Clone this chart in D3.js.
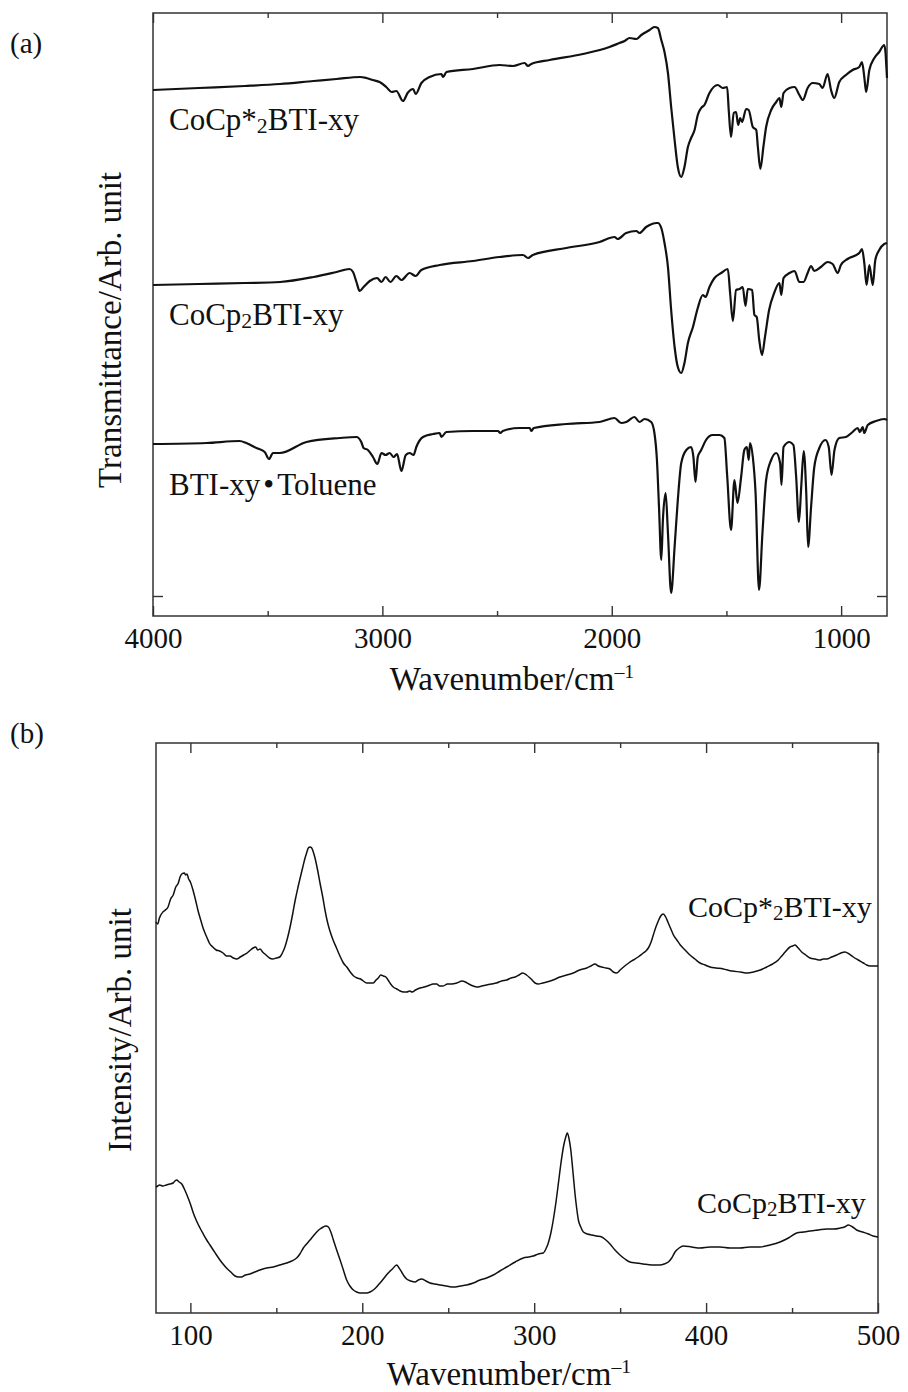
<!DOCTYPE html>
<html>
<head>
<meta charset="utf-8">
<script src="https://cdn.jsdelivr.net/npm/d3@7"></script>
<style>
  body { margin: 0; background: #fff; }
  svg { display: block; }
  text { font-family: "Liberation Serif", "Times New Roman", "DejaVu Serif", serif; fill: #111; }
</style>
</head>
<body>
<svg id="fig" width="908" height="1392" font-family="Liberation Serif, serif"></svg>
<script>
// ---------- (a) FT-IR spectra: [wavenumber / cm-1, transmittance (arb., offset)] ----------
const irCoCpStar = [
  [4000,52.6],[3800,52.8],[3600,53.0],[3446,53.2],[3300,53.5],[3200,53.7],[3097,53.9],[3070,53.8],
  [3042,53.6],[3012,53.4],[2983,52.9],[2960,52.4],[2939,52.5],[2910,51.5],[2890,52.3],[2866,52.7],
  [2855,52.2],[2830,53.3],[2794,53.9],[2743,54.2],[2735,53.9],[2721,54.4],[2605,54.7],[2489,55.1],
  [2431,55.0],[2380,55.3],[2365,55.0],[2351,55.2],[2271,55.6],[2126,56.2],[2010,56.9],[1966,57.3],
  [1944,57.5],[1922,57.8],[1893,57.7],[1871,58.1],[1835,58.6],[1814,58.9],[1799,58.8],[1784,57.6],
  [1770,56.4],[1755,54.3],[1741,50.9],[1726,47.6],[1712,44.9],[1697,43.9],[1683,44.9],[1668,46.9],
  [1654,47.8],[1639,48.6],[1625,50.1],[1610,50.8],[1596,51.1],[1574,52.3],[1538,53.1],[1516,52.8],
  [1497,52.9],[1490,50.6],[1480,47.9],[1468,50.3],[1458,50.4],[1449,49.1],[1440,49.8],[1432,49.4],
  [1414,50.7],[1403,50.6],[1385,48.9],[1370,48.6],[1363,46.9],[1352,44.7],[1339,46.9],[1327,48.9],
  [1305,50.6],[1283,51.4],[1269,51.8],[1261,50.9],[1251,52.3],[1225,52.8],[1203,52.9],[1182,52.1],
  [1167,51.6],[1146,52.8],[1124,53.3],[1095,53.2],[1081,52.8],[1059,54.2],[1044,52.6],[1030,51.8],
  [1008,53.4],[979,54.1],[950,54.6],[921,54.9],[909,55.4],[899,53.9],[891,52.4],[877,54.6],
  [855,55.8],[834,56.4],[812,57.1],[806,56.2],[803,55.0],[800,53.8]
];
const irCoCp = [
  [4000,33.1],[3800,33.2],[3600,33.3],[3446,33.4],[3300,33.9],[3200,34.4],[3143,34.7],[3128,34.4],
  [3113,33.4],[3099,32.5],[3082,32.9],[3055,33.5],[3023,33.8],[3004,33.4],[2986,33.9],[2965,33.4],
  [2939,34.0],[2917,33.6],[2881,34.3],[2855,34.0],[2830,34.6],[2750,35.1],[2605,35.5],[2489,35.9],
  [2387,36.1],[2365,35.8],[2344,36.1],[2198,36.8],[2053,37.4],[1988,37.9],[1974,37.7],[1937,38.3],
  [1893,38.5],[1879,38.3],[1850,38.9],[1835,39.1],[1806,39.3],[1799,39.3],[1784,38.8],[1770,37.3],
  [1755,34.9],[1741,30.6],[1726,26.9],[1712,24.9],[1697,24.3],[1683,25.3],[1668,27.3],[1646,28.9],
  [1625,30.8],[1603,32.1],[1591,31.9],[1574,32.9],[1552,33.8],[1523,34.3],[1494,34.7],[1484,32.3],
  [1472,29.5],[1458,32.6],[1443,32.7],[1429,32.9],[1417,31.0],[1407,32.7],[1388,32.6],[1378,30.1],
  [1368,29.9],[1357,27.6],[1345,26.1],[1332,27.9],[1314,30.6],[1292,32.3],[1269,33.3],[1261,32.1],
  [1251,33.8],[1225,34.3],[1203,34.5],[1182,33.4],[1164,33.4],[1146,34.3],[1131,35.0],[1117,34.5],
  [1088,34.9],[1059,35.4],[1037,35.2],[1015,34.3],[1001,35.1],[972,35.7],[921,36.3],[909,36.7],
  [899,35.3],[889,33.1],[877,35.1],[862,33.1],[851,35.6],[834,36.6],[812,37.2],[800,37.3]
];
const irBTIToluene = [
  [4000,17.2],[3767,17.3],[3622,17.5],[3593,17.3],[3549,16.8],[3513,16.4],[3494,15.7],[3477,16.3],
  [3447,16.3],[3331,17.4],[3186,17.8],[3113,17.9],[3092,17.4],[3082,16.8],[3063,16.6],[3041,15.9],
  [3022,15.2],[3004,16.3],[2986,16.1],[2968,16.3],[2951,15.9],[2936,16.2],[2917,14.5],[2898,16.1],
  [2881,16.3],[2864,16.1],[2852,16.9],[2823,17.9],[2779,18.2],[2750,18.3],[2743,17.9],[2721,18.4],
  [2605,18.5],[2496,18.5],[2486,18.3],[2475,18.5],[2402,18.8],[2358,18.8],[2350,18.5],[2340,18.8],
  [2198,19.2],[2053,19.4],[1988,19.8],[1959,19.3],[1937,19.4],[1901,19.9],[1879,19.4],[1857,19.7],
  [1828,19.4],[1814,18.3],[1803,15.6],[1794,10.9],[1784,5.6],[1777,9.6],[1765,12.3],[1755,8.3],
  [1741,2.3],[1726,6.9],[1712,11.6],[1697,15.3],[1675,16.6],[1654,16.9],[1644,15.9],[1635,13.4],
  [1625,15.9],[1610,16.6],[1589,17.6],[1560,18.1],[1530,18.1],[1509,17.8],[1497,14.1],[1480,8.6],
  [1465,13.6],[1452,11.3],[1436,13.9],[1422,16.6],[1411,16.9],[1403,15.6],[1397,17.3],[1385,15.9],
  [1373,12.3],[1358,2.6],[1343,8.3],[1327,13.6],[1305,15.6],[1283,16.3],[1266,15.3],[1260,13.1],
  [1251,16.9],[1225,17.4],[1208,17.1],[1196,13.9],[1184,9.4],[1174,12.9],[1163,16.5],[1152,12.3],
  [1144,6.9],[1131,10.9],[1117,14.9],[1095,16.8],[1068,17.6],[1054,16.9],[1042,14.1],[1029,16.6],
  [1008,17.8],[979,17.9],[950,18.4],[928,18.8],[918,18.4],[906,18.9],[899,18.3],[884,19.1],
  [848,19.5],[812,19.7],[800,19.6]
];
const irTicksMajor = [4000, 3000, 2000, 1000];
const irTicksMinor = [3500, 2500, 1500];
const irTicksY = [2];

// ---------- (b) Raman spectra: [wavenumber / cm-1, intensity (arb., offset)] ----------
const ramanCoCpStar = [
  [80,39.1],[81,38.9],[82,39.5],[84,40.1],[85.5,40.3],[87,40.6],[88.5,41.4],[90,41.8],[91.5,42.6],
  [93,43.0],[94,43.6],[95,43.9],[96.5,44.0],[97.2,43.8],[98,43.9],[99,43.4],[100,43.1],[101.5,42.3],
  [103,41.3],[104.5,40.2],[106,39.3],[107.2,38.6],[108.5,38.0],[110,37.4],[111,37.0],[113,36.6],
  [115,36.3],[117,36.2],[119,36.0],[121,35.7],[123,35.7],[125,35.5],[127,35.4],[129,35.6],[131,35.8],
  [133,36.0],[135,36.3],[136.5,36.5],[138,36.6],[139.2,36.3],[140.5,36.4],[142,36.1],[144,35.8],
  [146,35.5],[148,35.4],[150,35.5],[152,35.6],[153.5,36.0],[155,36.6],[156.5,37.5],[158,38.6],
  [159.5,39.9],[161,41.3],[162.5,42.5],[164,43.6],[165.4,44.6],[166.7,45.5],[167.6,46.0],[168.6,46.5],
  [169.6,46.6],[170.6,46.5],[171.5,46.1],[172.5,45.5],[174,44.3],[175.4,43.0],[177,41.6],[178.3,40.3],
  [179.6,39.2],[181,38.3],[183,37.3],[185,36.5],[187,35.7],[189,35.0],[191,34.6],[193,34.1],[195,33.7],
  [197,33.5],[199,33.4],[200.6,33.2],[202.5,33.0],[204.5,33.0],[206.4,33.0],[208,33.3],[209.3,33.5],
  [210.8,33.8],[212.3,33.7],[213.7,33.6],[215,33.3],[216.5,32.9],[218,32.6],[220,32.4],[222,32.2],
  [224,32.1],[226,32.1],[227.5,32.2],[229,32.1],[231,32.3],[233.6,32.5],[236,32.6],[239.4,32.8],
  [241,32.9],[243.3,32.9],[245,32.7],[247,32.7],[249.5,32.9],[252,32.9],[255,33.0],[258,33.2],
  [260,33.1],[262,32.9],[264.5,32.7],[266.6,32.6],[269.5,32.7],[272.3,32.8],[275,32.9],[278,33.0],
  [281,33.2],[284,33.3],[286.5,33.5],[289,33.6],[291.2,33.8],[293.3,34.0],[295.5,33.8],[297.6,33.5],
  [300.5,33.0],[302.4,32.9],[305,33.0],[307.3,33.1],[311,33.3],[315,33.6],[319,33.8],[322.7,34.0],
  [326.5,34.3],[330.6,34.5],[333,34.7],[335.4,34.9],[337.3,34.7],[339.3,34.6],[341.7,34.5],[344,34.4],
  [346,34.1],[348,34.0],[350,34.3],[352,34.6],[355,35.0],[357.7,35.3],[360.5,35.6],[363.5,36.0],
  [365,36.2],[366.4,36.5],[368,37.1],[369.3,37.8],[370.8,38.6],[372.2,39.2],[373.6,39.7],[375.1,39.9],
  [376.5,39.6],[378,39.0],[379.5,38.4],[381,37.8],[383,37.3],[385,36.8],[387.8,36.3],[390.6,35.8],
  [393.5,35.4],[396.5,35.0],[399.4,34.8],[402.3,34.6],[406,34.5],[410,34.4],[415,34.2],[420,34.1],
  [424,34.0],[427.5,34.1],[431.5,34.3],[435.3,34.6],[438.7,34.9],[442,35.3],[444,35.7],[446,36.1],
  [448.8,36.6],[450.3,36.7],[451.7,36.8],[453.6,36.5],[455.6,36.1],[458,35.8],[460.5,35.5],[463.4,35.4],
  [466.3,35.3],[468.2,35.4],[470.2,35.4],[473,35.6],[476,35.8],[478.4,36.0],[480.8,36.1],[483.2,35.9],
  [485.6,35.6],[488.5,35.3],[491.5,35.0],[493.4,34.8],[495.4,34.7],[497.7,34.7],[500,34.7]
];
const ramanCoCp = [
  [80,12.6],[81,12.7],[82,12.8],[84,12.7],[86,12.8],[88,12.9],[90,13.0],[91,13.2],[92,13.3],[93.5,13.1],
  [95,12.9],[96.5,12.4],[98,11.8],[100,10.9],[101.7,10.0],[103.6,9.2],[105.6,8.5],[107.5,7.9],
  [109.5,7.3],[111.4,6.8],[113.3,6.3],[115.2,5.8],[117.2,5.3],[119,4.9],[121,4.5],[123.5,4.1],[126,3.7],
  [128,3.6],[129.7,3.6],[132,3.8],[134.6,3.9],[137.5,4.1],[140.5,4.3],[144.4,4.5],[148.2,4.6],
  [152,4.8],[156,5.0],[159,5.2],[161.8,5.5],[163.7,5.9],[165.7,6.5],[167.6,6.9],[169.6,7.3],
  [171.5,7.7],[173.5,8.1],[175.4,8.4],[177.3,8.6],[178.8,8.7],[180.3,8.6],[181.7,8.1],[183.2,7.3],
  [185.1,6.3],[187.1,5.3],[189,4.3],[190.9,3.3],[192.8,2.7],[194.8,2.3],[196.7,2.1],[198.7,2.0],
  [200.6,2.0],[202.6,2.0],[204.5,2.1],[206.4,2.3],[208.3,2.6],[210.3,3.0],[212.7,3.5],[215.1,4.0],
  [217.5,4.4],[220,4.8],[221.4,4.5],[222.9,4.1],[224.3,3.7],[225.8,3.4],[228.2,3.2],[230.7,3.1],
  [232.6,3.3],[234.5,3.4],[237,3.2],[239.4,3.0],[242.3,2.9],[245.2,2.8],[249,2.7],[253,2.6],
  [257,2.7],[260.7,2.8],[264.6,3.0],[268.5,3.3],[272.3,3.5],[276.2,3.8],[280,4.2],[284,4.6],
  [289,5.1],[293.7,5.5],[296.6,5.6],[299.5,5.7],[302.4,5.9],[305.3,6.0],[306.8,6.4],[308.2,7.0],
  [309.7,8.0],[311.1,9.3],[312.6,11.0],[314.1,13.0],[315.5,14.9],[317,16.6],[318.2,17.5],[319.3,18.0],
  [320.3,17.4],[321.3,16.3],[322.5,14.2],[323.7,12.0],[324.7,10.5],[325.7,9.3],[327.1,8.6],[328.6,8.1],
  [331,7.9],[333.4,7.8],[336.3,7.7],[339.3,7.6],[341.7,7.3],[344.1,6.9],[347,6.3],[349.9,5.8],
  [352.8,5.4],[355.7,5.1],[359.6,5.0],[363.5,4.9],[368.3,4.8],[373.2,4.8],[375.6,4.9],[378,5.1],
  [380,5.5],[381.9,6.1],[384.3,6.5],[386.7,6.7],[391.6,6.6],[396.5,6.5],[402.3,6.6],[408.1,6.6],
  [413.9,6.5],[419.7,6.5],[425.5,6.6],[431.4,6.6],[437.2,6.8],[443,7.1],[447.9,7.5],[452.7,8.0],
  [456.6,8.1],[460.5,8.2],[465.3,8.3],[470.2,8.4],[474.2,8.4],[478.1,8.5],[480.5,8.6],[482.8,8.8],
  [485.2,8.6],[487.6,8.3],[491,8.1],[494.4,7.9],[497.2,7.7],[500,7.6]
];
const ramanTicksMajor = [100, 200, 300, 400, 500];
const ramanTicksMinor = [150, 250, 350, 450];

const svg = d3.select("#fig");
const ink = "#111";
const frameColor = "#333";
const serif = "Liberation Serif, Times New Roman, serif";

// Framed panel with inward ticks on all four sides
function drawFrame(x, y, opts) {
  const [x0, x1] = x.range();
  const [yb, yt] = y.range();
  const g = svg.append("g").attr("color", frameColor);

  const bottomMajor = g.append("g").attr("transform", `translate(0,${yb})`)
    .call(d3.axisBottom(x).tickValues(opts.major).tickSize(-10).tickFormat(d3.format("d")));
  bottomMajor.attr("font-family", serif).attr("font-size", 29);
  bottomMajor.select(".domain").remove();
  bottomMajor.selectAll(".tick line").attr("stroke-width", 1.4);
  bottomMajor.selectAll(".tick text")
    .attr("y", 32).attr("dy", null)
    .style("font-family", serif).style("font-size", "29px").style("fill", ink);

  g.append("g").attr("transform", `translate(0,${yb})`)
    .call(d3.axisBottom(x).tickValues(opts.minor).tickSize(-5).tickFormat(""))
    .call(s => s.select(".domain").remove())
    .selectAll(".tick line").attr("stroke-width", 1.4);

  g.append("g").attr("transform", `translate(0,${yt})`)
    .call(d3.axisTop(x).tickValues(opts.major).tickSize(-10).tickFormat(""))
    .call(s => s.select(".domain").remove())
    .selectAll(".tick line").attr("stroke-width", 1.4);
  g.append("g").attr("transform", `translate(0,${yt})`)
    .call(d3.axisTop(x).tickValues(opts.minor).tickSize(-5).tickFormat(""))
    .call(s => s.select(".domain").remove())
    .selectAll(".tick line").attr("stroke-width", 1.4);

  if (opts.yTicks) {
    g.append("g").attr("transform", `translate(${x0},0)`)
      .call(d3.axisLeft(y).tickValues(opts.yTicks).tickSize(-10).tickFormat(""))
      .call(s => s.select(".domain").remove())
      .selectAll(".tick line").attr("stroke-width", 1.4);
    g.append("g").attr("transform", `translate(${x1},0)`)
      .call(d3.axisRight(y).tickValues(opts.yTicks).tickSize(-10).tickFormat(""))
      .call(s => s.select(".domain").remove())
      .selectAll(".tick line").attr("stroke-width", 1.4);
  }

  g.append("rect")
    .attr("x", x0).attr("y", yt).attr("width", x1 - x0).attr("height", yb - yt)
    .attr("fill", "none").attr("stroke", frameColor).attr("stroke-width", 1.5);
}

function drawTrace(data, x, y, width, curve) {
  svg.append("path")
    .datum(data)
    .attr("fill", "none")
    .attr("stroke", ink)
    .attr("stroke-width", width)
    .attr("stroke-linejoin", "round")
    .attr("d", d3.line().x(d => x(d[0])).y(d => y(d[1])).curve(curve));
}

// Text made of parts; sub parts are set smaller and lowered
function richText(px, py, size, parts, opts = {}) {
  const t = svg.append("text")
    .attr("font-size", size)
    .attr("text-anchor", opts.anchor || "start")
    .attr("transform", opts.rotate ? `translate(${px},${py}) rotate(-90)` : `translate(${px},${py})`);
  let shift = 0;
  parts.forEach(p => {
    const s = t.append("tspan").text(p.t);
    let target = 0;
    if (p.sub) { s.attr("font-size", size * 0.7); target = size * 0.1; }
    if (p.sup) { s.attr("font-size", size * 0.6); target = -size * 0.36; }
    s.attr("dy", target - shift);
    if (p.dx) s.attr("dx", p.dx);
    shift = target;
  });
  return t;
}

// ---------- panel (a) ----------
const xIR = d3.scaleLinear().domain([4000, 800]).range([153, 887]);
const yIR = d3.scaleLinear().domain([0, 60.3]).range([616, 13]);

drawFrame(xIR, yIR, { major: irTicksMajor, minor: irTicksMinor, yTicks: irTicksY });
[irCoCpStar, irCoCp, irBTIToluene].forEach(s => drawTrace(s, xIR, yIR, 2.2, d3.curveMonotoneX));

richText(169, 130, 31, [{ t: "CoCp*" }, { t: "2", sub: true }, { t: "BTI-xy" }]);
richText(169, 325, 31, [{ t: "CoCp" }, { t: "2", sub: true }, { t: "BTI-xy" }]);
richText(169, 495, 31, [{ t: "BTI-xy" }, { t: "\u2022", dx: 3 }, { t: "Toluene", dx: 3 }]);

richText(121, 330, 33, [{ t: "Transmittance/Arb. unit" }], { anchor: "middle", rotate: true });
richText(512, 690, 33, [{ t: "Wavenumber/cm" }, { t: "\u20131", sup: true }], { anchor: "middle" });
richText(10, 53, 29, [{ t: "(a)" }]);

// ---------- panel (b) ----------
const xRaman = d3.scaleLinear().domain([80, 500]).range([156, 878]);
const yRaman = d3.scaleLinear().domain([0, 57]).range([1313, 743]);

drawFrame(xRaman, yRaman, { major: ramanTicksMajor, minor: ramanTicksMinor });
[ramanCoCpStar, ramanCoCp].forEach(s => drawTrace(s, xRaman, yRaman, 1.5, d3.curveMonotoneX));

richText(688, 917, 30, [{ t: "CoCp*" }, { t: "2", sub: true }, { t: "BTI-xy" }]);
richText(697, 1213, 30, [{ t: "CoCp" }, { t: "2", sub: true }, { t: "BTI-xy" }]);

richText(131, 1030, 33, [{ t: "Intensity/Arb. unit" }], { anchor: "middle", rotate: true });
richText(509, 1385, 33, [{ t: "Wavenumber/cm" }, { t: "\u20131", sup: true }], { anchor: "middle" });
richText(10, 743, 29, [{ t: "(b)" }]);
</script>
</body>
</html>
